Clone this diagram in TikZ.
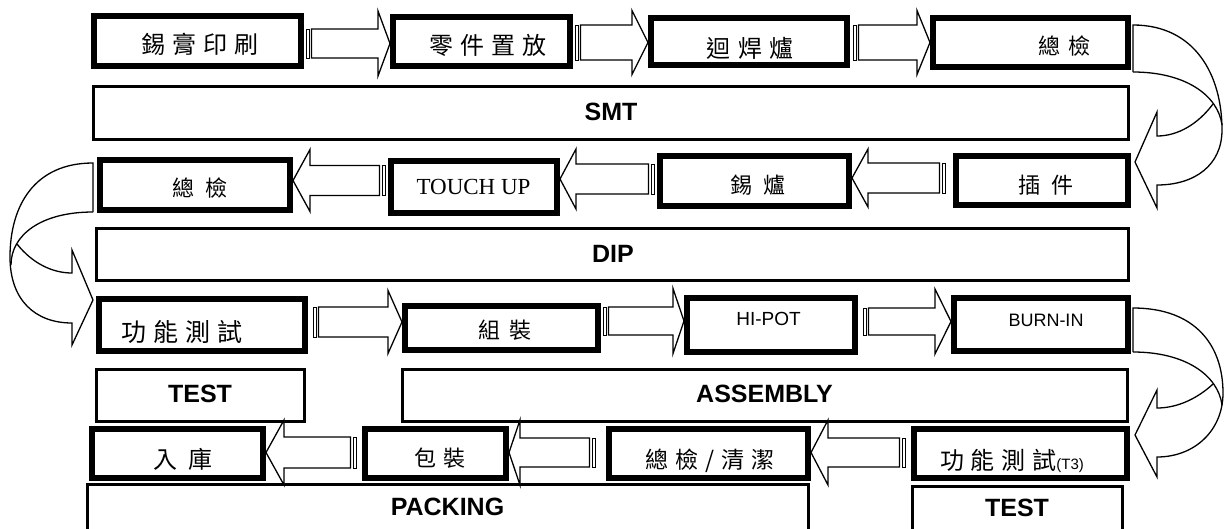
\documentclass[tikz,border=0pt]{standalone}
\usepackage{fontspec}
\setmainfont{Liberation Serif}
\newfontfamily\cjk{Noto Sans CJK TC}
\newfontfamily\arial{Liberation Sans}
\usetikzlibrary{calc}
\newcommand\cjn[3]{{\fontsize{#1}{#1}\selectfont\cjk\addfontfeature{LetterSpace=#2}#3}}
\newcommand\cj[3]{\cjn{#1}{#2}{#3}\kern-\dimexpr#1pt*#2/100\relax}
\tikzset{
 box/.style={draw, line width=6pt, fill=white, inner sep=0pt},
 bar/.style={draw, line width=3pt, fill=white, inner sep=0pt},
 lbl/.style={inner sep=0pt, anchor=center},
 stage/.style={lbl, font=\fontsize{25}{25}\selectfont\arial\bfseries},
 blk/.style={draw, line width=1.3pt, fill=white, line join=miter},
 stripe/.style={draw, line width=0.9pt, fill=white},
 curv/.style={draw, line width=1.3pt, line join=miter},
}
\newcommand\tbox[5]{\node[box, minimum width={#4-#2-6}, minimum height={#5-#3-6}] (#1) at ({(#2+#4)/2},{(#3+#5)/2}) {};}
\newcommand\tbar[5]{\node[bar, minimum width={#4-#2-3}, minimum height={#5-#3-3}] (#1) at ({(#2+#4)/2},{(#3+#5)/2}) {};}
% right-pointing striped arrow: tail node, tip node, y, shaft half, head half, head length, gap
\newcommand\arrR[7]{%
 \path (#1.east |- 0,#3) coordinate (t) (#2.west |- 0,#3) coordinate (h);
 \draw[stripe] ($(t)+(#7+2,-#4)$) rectangle ($(t)+(#7+5,#4)$);
 \draw[blk] ($(t)+(#7+7.5,-#4)$) -- ($(h)+(-#6,-#4)$) -- ($(h)+(-#6,-#5)$) -- (h)
   -- ($(h)+(-#6,#5)$) -- ($(h)+(-#6,#4)$) -- ($(t)+(#7+7.5,#4)$) -- cycle;}
% left-pointing striped arrow
\newcommand\arrL[7]{%
 \path (#1.west |- 0,#3) coordinate (t) (#2.east |- 0,#3) coordinate (h);
 \draw[stripe] ($(t)+(-#7-2,-#4)$) rectangle ($(t)+(-#7-5,#4)$);
 \draw[blk] ($(t)+(-#7-7.5,-#4)$) -- ($(h)+(#6,-#4)$) -- ($(h)+(#6,-#5)$) -- (h)
   -- ($(h)+(#6,#5)$) -- ($(h)+(#6,#4)$) -- ($(t)+(-#7-7.5,#4)$) -- cycle;}
\begin{document}
\begin{tikzpicture}[x=1pt,y=-1pt]
\useasboundingbox (0,0) rectangle (1227,528);
\clip (0,0) rectangle (1227,528);
% ---------- boxes ----------
\tbox{b1}{91}{13}{304}{69}
\tbox{b2}{390}{14}{573}{69}
\tbox{b3}{648}{15}{850}{68}
\tbox{b4}{930}{15}{1131}{70}
\tbar{smt}{92}{85}{1130}{141}
\tbox{c4}{97}{157}{293}{213}
\tbox{c3}{388}{158}{560}{216}
\tbox{c2}{657}{153}{852}{209}
\tbox{c1}{953}{153}{1131}{208}
\tbar{dip}{95}{227}{1130}{282}
\tbox{d1}{96}{296}{308}{354}
\tbox{d2}{402}{303}{601}{353}
\tbox{d3}{684}{295}{858}{355}
\tbox{d4}{951}{295}{1131}{354}
\tbar{test1}{95}{368}{306}{423}
\tbar{asm}{401}{368}{1129}{423}
\tbox{e4}{89}{426}{266}{481}
\tbox{e3}{362}{426}{509}{481}
\tbox{e2}{606}{426}{811}{481}
\tbox{e1}{911}{426}{1130}{481}
\tbar{pack}{86}{483}{810}{560}
\tbar{test2}{911}{485}{1124}{560}
% ---------- striped block arrows ----------
\arrR{b1}{b2}{43.5}{14.5}{32.5}{12}{0}
\arrR{b2}{b3}{42.5}{17.5}{32}{16}{0}
\arrR{b3}{b4}{42.5}{17.5}{32}{13}{1}
\arrL{c1}{c2}{178}{15}{29}{16}{6}
\arrL{c2}{c3}{179}{15}{30}{16}{1}
\arrL{c3}{c4}{180.5}{15}{31}{17}{1}
\arrR{d1}{d2}{322}{15}{31.5}{14}{3}
\arrR{d2}{d3}{321}{14}{32.5}{11}{0}
\arrR{d3}{d4}{321.5}{13.5}{32.5}{16}{3}
\arrL{e1}{e2}{452.5}{14.5}{32.5}{17}{4}
\arrL{e2}{e3}{452.5}{14.5}{32.5}{11}{9}
\arrL{e3}{e4}{452.5}{15.5}{32.5}{18}{4}
% ---------- curved arrows ----------
\draw[curv] ($(b4.east |- 0,72)+(2,0)$) -- ($(b4.east |- 0,25)+(2,0)$)
  .. controls (1195,25) and (1222,75) .. (1222,130)
  .. controls (1222,165) and (1195,185) .. (1157,185) -- (1157,208)
  -- ($(c1.east |- 0,162)+(4,0)$) -- (1157,112) -- (1157,136)
  .. controls (1178,136) and (1198,124) .. (1213,104);
\draw[curv] ($(b4.east |- 0,72)+(2,0)$) .. controls (1185,72) and (1218,95) .. (1222,125);
\draw[curv] ($(c4.west |- 0,212)+(-4,0)$) -- ($(c4.west |- 0,163)+(-4,0)$)
  .. controls (35,163) and (10,205) .. (10,257)
  .. controls (10,300) and (35,323) .. (72,323) -- (72,345)
  -- ($(d1.west |- 0,300)+(-3,0)$) -- (72,250) -- (72,273)
  .. controls (52,273) and (32,263) .. (17,244);
\draw[curv] ($(c4.west |- 0,212)+(-4,0)$) .. controls (41,212) and (11,235) .. (11,265);
\draw[curv] ($(d4.east |- 0,352)+(2,0)$) -- ($(d4.east |- 0,308)+(2,0)$)
  .. controls (1195,308) and (1223,345) .. (1223,393)
  .. controls (1223,430) and (1195,457) .. (1157,457) -- (1157,477)
  -- ($(e1.east |- 0,435)+(5,0)$) -- (1157,390) -- (1157,408)
  .. controls (1178,408) and (1198,398) .. (1213,384);
\draw[curv] ($(d4.east |- 0,352)+(2,0)$) .. controls (1185,352) and (1218,375) .. (1222,405);
% ---------- texts ----------
\node[lbl] (b1-t) at (196.5,44) {\cj{24}{30}{錫膏印刷}};
\node[lbl] (b2-t) at (484.5,45) {\cj{24}{30}{零件置放}};
\node[lbl] (b3-t) at (746.5,48) {\cj{24}{30}{迴焊爐}};
\node[lbl] (b4-t) at (1060,46) {\cj{22}{40}{總檢}};
\node[stage] (smt-t) at (611,112) {SMT};
\node[lbl] (c4-t) at (194.5,188) {\cj{22}{50}{總檢}};
\node[lbl, font=\fontsize{23}{23}\selectfont] (c3-t) at (473.5,187) {TOUCH UP};
\node[lbl] (c2-t) at (752,185) {\cj{22}{50}{錫爐}};
\node[lbl] (c1-t) at (1040.5,185) {\cj{22}{50}{插件}};
\node[stage] (dip-t) at (613,254) {DIP};
\node[lbl] (d1-t) at (178,332) {\cj{25}{28}{功能測試}};
\node[lbl] (d2-t) at (500.5,330) {\cj{22}{40}{組裝}};
\node[lbl, font=\fontsize{19}{19}\selectfont\arial] (d3-t) at (768.5,319) {HI-POT};
\node[lbl, font=\fontsize{18}{18}\selectfont\arial] (d4-t) at (1046,320) {BURN-IN};
\node[stage] (test1-t) at (200,394) {TEST};
\node[stage] (asm-t) at (764.5,394) {ASSEMBLY};
\node[lbl] (e4-t) at (177.5,459) {\cj{24}{45}{入庫}};
\node[lbl] (e3-t) at (436,458) {\cj{22}{35}{包裝}};
\node[lbl] (e2-t) at (706.5,461) {\cj{23}{30}{總檢/清潔}};
\node[lbl] (e1-t) at (1012,461) {\cjn{24}{28}{功能測試}{\fontsize{15}{15}\selectfont\arial(T3)}};
\node[stage] (pack-t) at (447.5,507) {PACKING};
\node[stage] (test2-t) at (1017,508) {TEST};
\end{tikzpicture}
\end{document}
